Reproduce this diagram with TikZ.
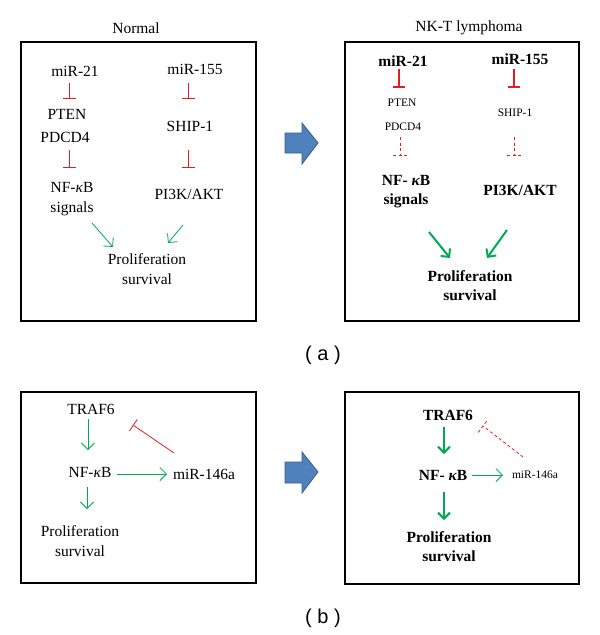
\documentclass[tikz,border=0pt]{standalone}
\usepackage{fontspec}
\setmainfont{Liberation Serif}
\newfontfamily\labfont{Liberation Sans}
\usetikzlibrary{arrows.meta}
\definecolor{inhred}{RGB}{225,30,40}
\definecolor{actgreen}{RGB}{0,170,80}
\definecolor{bfill}{RGB}{79,129,189}
\definecolor{bline}{RGB}{56,93,138}
\newcommand\kp{{\itshape κ}}
\begin{document}
\begin{tikzpicture}[x=1pt,y=-1pt,
 txt/.style={font=\fontsize{15.5}{20}\selectfont, inner sep=0pt, align=center},
 btxt/.style={font=\fontsize{15.5}{19}\selectfont\bfseries, inner sep=0pt, align=center},
 stxt/.style={font=\fontsize{11.5}{14}\selectfont, inner sep=0pt},
 panel/.style={draw=black, line width=1.1pt},
 inh/.style={draw=inhred, line width=0.8pt, -{Bar[width=13pt]}},
 inhb/.style={draw=inhred, line width=1.8pt, -{Bar[width=12pt]}},
 inhd/.style={draw=inhred, line width=0.8pt, dash pattern=on 3pt off 2.5pt},
 act/.style={draw=actgreen, line width=0.8pt, -{Straight Barb[length=6.5pt,width=13pt]}},
 actb/.style={draw=actgreen, line width=2pt, -{Straight Barb[length=6pt,width=12pt]}},
 bigarrow/.style={fill=bfill, draw=bline, line width=0.8pt},
 lab/.style={font=\labfont\fontsize{20}{22}\selectfont, inner sep=0pt}
]
\useasboundingbox (0,0) rectangle (600,635);
\fill[white] (0,0) rectangle (600,635);

% ---------- panel (a) ----------
\node[txt] (normal) at (136,28) {Normal};
\node[txt] (nkt) at (469,28) {NK-T lymphoma};
\draw[panel] (21,42) rectangle (256,321);
\draw[panel] (345,42) rectangle (579,321);

% left box
\node[txt] (a21) at (75,71) {miR-21};
\node[txt] (apten) at (67,114) {PTEN};
\node[txt] (apdcd) at (65,137) {PDCD4};
\node[txt] (anfkb) at (72,199) {NF-\kp B\\signals};
\node[txt] (a155) at (195,69) {miR-155};
\node[txt] (aship) at (190,126) {SHIP-1};
\node[txt] (apik) at (189,194) {PI3K/AKT};
\node[txt] (aprol) at (147,269) {Proliferation\\survival};

\coordinate (i1s) at (69,83);  \coordinate (i1e) at (69,99);
\coordinate (i2s) at (69,150); \coordinate (i2e) at (69,168);
\coordinate (i3s) at (188,83); \coordinate (i3e) at (188,99);
\coordinate (i4s) at (188,150);\coordinate (i4e) at (188,168);
\draw[inh] (i1s) -- (i1e);
\draw[inh] (i2s) -- (i2e);
\draw[inh] (i3s) -- (i3e);
\draw[inh] (i4s) -- (i4e);
\coordinate (g1s) at (92,223);  \coordinate (g1e) at (113,247);
\coordinate (g2s) at (183,225); \coordinate (g2e) at (168,243);
\draw[act] (g1s) -- (g1e);
\draw[act] (g2s) -- (g2e);

% right box
\node[btxt] (b21) at (403,61) {miR-21};
\node[stxt] (bpten) at (402,103) {PTEN};
\node[stxt] (bpdcd) at (403,127) {PDCD4};
\node[btxt] (bnfkb) at (406,192) {NF- \kp B\\signals};
\node[btxt] (b155) at (520,59) {miR-155};
\node[stxt] (bship) at (515,113) {SHIP-1};
\node[btxt] (bpik) at (520,190) {PI3K/AKT};
\node[btxt] (bprol) at (470,286) {Proliferation\\survival};

\coordinate (j1s) at (399,69);  \coordinate (j1e) at (399,88);
\coordinate (j3s) at (514,69);  \coordinate (j3e) at (514,88);
\draw[inhb] (j1s) -- (j1e);
\draw[inhb] (j3s) -- (j3e);
\coordinate (j2s) at (400,137); \coordinate (j2e) at (400,155);
\coordinate (j4s) at (514,137); \coordinate (j4e) at (514,155);
\draw[inhd] (j2s) -- (j2e) ([xshift=-7pt]j2e) -- ([xshift=7pt]j2e);
\draw[inhd] (j4s) -- (j4e) ([xshift=-7pt]j4e) -- ([xshift=7pt]j4e);
\coordinate (h1s) at (429,232); \coordinate (h1e) at (450,258);
\coordinate (h2s) at (507,230); \coordinate (h2e) at (487,258);
\draw[actb] (h1s) -- (h1e);
\draw[actb] (h2s) -- (h2e);

\draw[bigarrow] (285,133) -- (302,133) -- (302,123) -- (318,143) -- (302,164) -- (302,153) -- (285,153) -- cycle;
\node[lab] (la) at (323,355) {( a )};

% ---------- panel (b) ----------
\draw[panel] (21,392) rectangle (256,583);
\draw[panel] (345,392) rectangle (579,584);

% left
\node[txt] (ctraf) at (91,409) {TRAF6};
\node[txt] (cnf) at (90,472) {NF-\kp B};
\node[txt] (cmir) at (204,474) {miR-146a};
\node[txt] (cprol) at (80,541) {Proliferation\\survival};
\coordinate (k1s) at (88,419); \coordinate (k1e) at (88,450);
\draw[act] (k1s) -- (k1e);
\coordinate (k2s) at (117,474); \coordinate (k2e) at (167,474);
\draw[act] (k2s) -- (k2e);
\coordinate (k3s) at (87,487); \coordinate (k3e) at (87,509);
\draw[act] (k3s) -- (k3e);
\coordinate (k4s) at (174,453); \coordinate (k4e) at (133,425);
\draw[inh, -{Bar[width=14pt]}] (k4s) -- (k4e);

% right
\node[btxt] (dtraf) at (448,415) {TRAF6};
\node[btxt] (dnf) at (443,475) {NF- \kp B};
\node[stxt] (dmir) at (535,475) {miR-146a};
\node[btxt] (dprol) at (449,547) {Proliferation\\survival};
\coordinate (m1s) at (444,427); \coordinate (m1e) at (444,454);
\draw[actb] (m1s) -- (m1e);
\coordinate (m2s) at (472,475); \coordinate (m2e) at (503,475);
\draw[act] (m2s) -- (m2e);
\coordinate (m3s) at (444,492); \coordinate (m3e) at (444,520);
\draw[actb] (m3s) -- (m3e);
\coordinate (m4s) at (523,457); \coordinate (m4e) at (483,426);
\draw[inhd] (m4s) -- (m4e) (478.2,432.4) -- (487.8,419.6);

\draw[bigarrow] (285,462) -- (302,462) -- (302,452) -- (318,472) -- (302,493) -- (302,483) -- (285,483) -- cycle;
\node[lab] (lb) at (323,618) {( b )};
\end{tikzpicture}
\end{document}
